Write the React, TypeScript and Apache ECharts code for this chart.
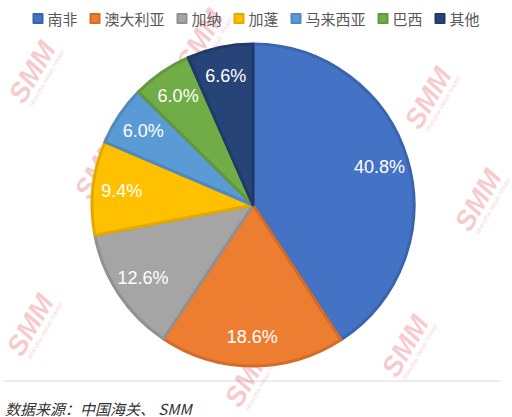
import React, { useEffect, useRef } from "react";
import * as echarts from "echarts";

const categories = ["南非", "澳大利亚", "加纳", "加蓬", "马来西亚", "巴西", "其他"];
const shares = [40.8, 18.6, 12.6, 9.4, 6.0, 6.0, 6.6];
const fillColors = ["#4472C4", "#ED7D31", "#A5A5A5", "#FFC000", "#5B9BD5", "#70AD47", "#264478"];
const borderColors = ["#3B64AE", "#D46C27", "#919191", "#E2AA00", "#4F89BD", "#62983D", "#1F3A68"];
const sourceText = "数据来源：中国海关、 SMM";

const watermarks: [number, number][] = [
  [32, 72], [200, 40], [428, 98], [478, 200], [98, 168], [262, 128],
  [330, 242], [160, 292], [30, 325], [405, 346], [248, 376],
];

export default function App() {
  const ref = useRef<HTMLDivElement>(null);
  useEffect(() => {
    if (!ref.current) return;
    const chart = echarts.init(ref.current, null, { renderer: "svg" });
    const data = categories.map((name, i) => ({
      name,
      value: shares[i],
      itemStyle: { color: fillColors[i], borderColor: borderColors[i], borderWidth: 3 },
    }));
    const labelData = categories.map((name, i) => ({ name, value: shares[i] }));
    const wm: any[] = watermarks.map(([x, y]) => ({
      type: "group",
      x,
      y,
      rotation: Math.PI / 3,
      silent: true,
      z: 100,
      children: [
        {
          type: "text",
          style: {
            text: "SMM",
            x: 0,
            y: 0,
            align: "center",
            verticalAlign: "middle",
            font: "italic bold 28px 'Liberation Sans'",
            fill: "rgba(232, 70, 80, 0.28)",
          },
        },
        {
          type: "text",
          style: {
            text: "Shanghai Metals Market",
            x: 2,
            y: 16,
            align: "center",
            verticalAlign: "middle",
            font: "italic 6px 'Liberation Sans'",
            fill: "rgba(232, 70, 80, 0.28)",
          },
        },
      ],
    }));
    chart.setOption({
      animation: false,
      backgroundColor: "#ffffff",
      legend: {
        top: 6,
        left: "center",
        icon: "rect",
        itemWidth: 9,
        itemHeight: 9,
        itemGap: 12,
        data: categories,
        textStyle: { fontSize: 15, color: "#595959", fontFamily: "'Noto Sans CJK SC'" },
      },
      series: [
        {
          type: "pie",
          center: [253, 205],
          radius: [0, 161],
          startAngle: 90,
          clockwise: true,
          label: { show: false },
          labelLine: { show: false },
          emphasis: { disabled: true },
          silent: true,
          data,
        },
        {
          type: "pie",
          center: [253, 205],
          radius: [98, 160],
          startAngle: 90,
          clockwise: true,
          itemStyle: { color: "transparent", borderWidth: 0 },
          label: {
            show: true,
            position: "inside",
            formatter: (p: any) => p.value.toFixed(1) + "%",
            color: "#ffffff",
            fontSize: 18,
            fontFamily: "'Liberation Sans'",
          },
          labelLine: { show: false },
          emphasis: { disabled: true },
          silent: true,
          z: 5,
          data: labelData,
        },
      ],
      graphic: [
        {
          type: "line",
          shape: { x1: 4, y1: 381, x2: 500, y2: 381 },
          style: { stroke: "#d9d9d9", lineWidth: 1 },
          silent: true,
        },
        {
          type: "text",
          x: 5,
          y: 408,
          style: {
            text: sourceText,
            font: "italic 15px 'Noto Sans CJK SC'",
            fill: "#333333",
            verticalAlign: "middle",
          },
          silent: true,
        },
        ...wm,
      ],
    });
    return () => chart.dispose();
  }, []);
  return <div ref={ref} style={{ width: 512, height: 417, position: "absolute", left: 0, top: 0 }} />;
}
